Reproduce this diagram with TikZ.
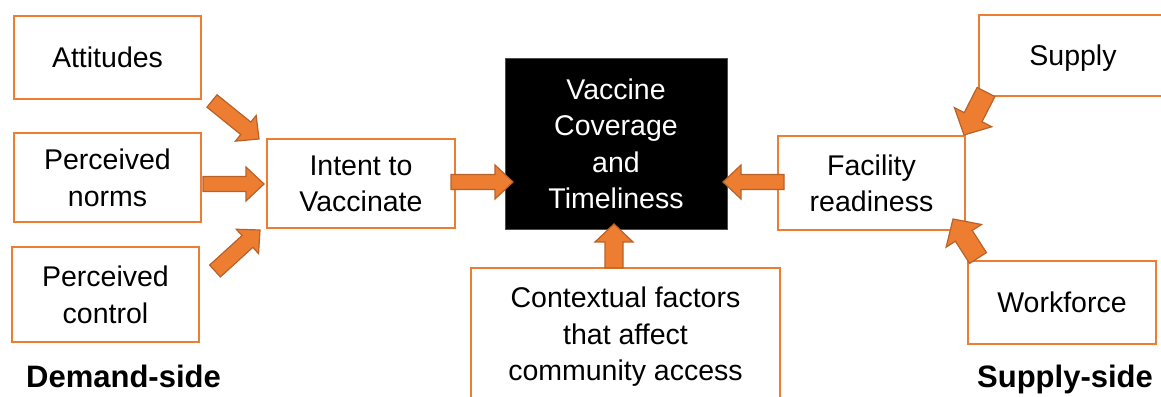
\documentclass[tikz,border=0pt]{standalone}
\usepackage{fontspec}
\setmainfont{Liberation Sans}
\usetikzlibrary{calc}
\definecolor{boxorange}{HTML}{ED7D31}
\definecolor{arrowedge}{HTML}{B8622A}
\tikzset{
  x=1pt, y=1pt,
  txt/.style={font=\fontsize{28.5}{36.5}\selectfont, align=center, inner sep=0pt, text depth=-4pt},
  obox/.style={txt, draw=boxorange, line width=2.4pt, fill=white},
  sidelabel/.style={font=\fontsize{31}{36}\selectfont\bfseries, inner sep=0pt, anchor=base},
  blk/sw/.store in=\blksw, blk/hw/.store in=\blkhw, blk/hl/.store in=\blkhl,
  blk/sw=7.5pt, blk/hw=17pt, blk/hl=18pt,
  blockarrow/.style={fill=boxorange, draw=arrowedge, line width=1.2pt, line join=miter,
    to path={
      let \p1=($(\tikztotarget)!\blkhl!(\tikztostart)$) in
      ($(\tikztostart)!\blksw!90:(\tikztotarget)$)
      -- ($(\p1)!\blksw!-90:(\tikztostart)$)
      -- ($(\p1)!\blkhw!-90:(\tikztostart)$)
      -- (\tikztotarget)
      -- ($(\p1)!\blkhw!90:(\tikztostart)$)
      -- ($(\p1)!\blksw!90:(\tikztostart)$)
      -- ($(\tikztostart)!\blksw!-90:(\tikztotarget)$)
      -- cycle
    }},
  bigarrow/.style={blockarrow, blk/sw=10pt, blk/hw=21pt, blk/hl=20pt},
  smallarrow/.style={blockarrow, blk/sw=8pt, blk/hw=16.5pt, blk/hl=17pt}
}
\begin{document}
\begin{tikzpicture}
\useasboundingbox (0,0) rectangle (1161,396);
\fill[white] (0,0) rectangle (1161,396);

% demand side
\node[obox, minimum width=187pt, minimum height=83pt] (att) at (107.5,338.5) {Attitudes};
\node[obox, minimum width=187pt, minimum height=89pt] (norms) at (107.5,218.5) {Perceived\\norms};
\node[obox, minimum width=187pt, minimum height=95pt] (ctrl) at (105.5,101.5) {Perceived\\control};
\node[obox, minimum width=188pt, minimum height=89pt] (intent) at (361,212.5) {Intent to\\Vaccinate};

% outcome
\node[txt, fill=black, draw=black!70, line width=0.6pt, text=white, minimum width=222pt, minimum height=171pt] (vac) at (616,252.5) {Vaccine\\Coverage\\and\\Timeliness};

% context
\node[obox, minimum width=309pt, minimum height=153pt, anchor=north] (ctxbox) at (625.5,129) {};
\node[txt] (ctx) at (625.5,62) {Contextual factors\\that affect\\community access};

% supply side
\node[obox, minimum width=187pt, minimum height=94pt] (fac) at (871.5,213) {Facility\\readiness};
\node[obox, minimum width=188pt, minimum height=81pt] (sup) at (1073,340.5) {Supply};
\node[obox, minimum width=188pt, minimum height=83pt] (wf) at (1062,93.5) {Workforce};

% labels
\node[sidelabel] (dem) at (123.5,9) {Demand-side};
\node[sidelabel] (sups) at (1065,9) {Supply-side};

% arrow end points
\coordinate (a1s) at (212,295); \coordinate (a1e) at (259,257);
\coordinate (a2s) at (203,212); \coordinate (a2e) at (264,212);
\coordinate (a3s) at (215,125); \coordinate (a3e) at (260,166);
\coordinate (a4s) at (451,214); \coordinate (a4e) at (513,214);
\coordinate (a5s) at (784,214); \coordinate (a5e) at (723,214);
\coordinate (a6s) at (614,128); \coordinate (a6e) at (614,172);
\coordinate (a7s) at (986,304); \coordinate (a7e) at (964,261);
\coordinate (a8s) at (978,138); \coordinate (a8e) at (953,177);

\draw[smallarrow] (a1s) to (a1e);
\draw[blockarrow] (a2s) to (a2e);
\draw[smallarrow] (a3s) to (a3e);
\draw[blockarrow] (a4s) to (a4e);
\draw[blockarrow] (a5s) to (a5e);
\draw[blockarrow, blk/sw=9pt, blk/hw=19pt] (a6s) to (a6e);
\draw[bigarrow] (a7s) to (a7e);
\draw[bigarrow] (a8s) to (a8e);
\end{tikzpicture}
\end{document}
